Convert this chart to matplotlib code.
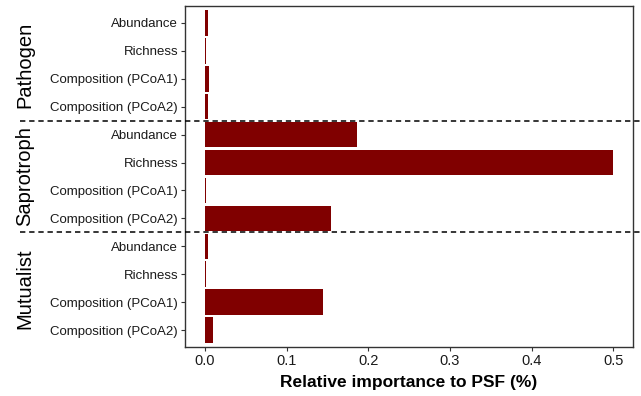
import numpy as np
import matplotlib.pyplot as plt

plt.rcParams['font.family'] = ['Liberation Sans', 'DejaVu Sans']

groups = ["Pathogen", "Saprotroph", "Mutualist"]
predictors = ["Abundance", "Richness", "Composition (PCoA1)", "Composition (PCoA2)"]
pathogen = [0.0037, 0.001, 0.005, 0.0037]
saprotroph = [0.186, 0.500, 0.001, 0.154]
mutualist = [0.0037, 0.001, 0.1445, 0.0098]

values = pathogen + saprotroph + mutualist
labels = predictors * len(groups)
ypos = np.arange(len(values))

fig = plt.figure(figsize=(6.41, 3.96), dpi=100)
ax = fig.add_axes([185/641, 1 - 347/396, (633-185)/641, (347-6)/396])

ax.barh(ypos, values, height=0.92, color="#800000")
ax.set_ylim(len(values) - 0.4, -0.6)
ax.set_xlim(-0.0245, 0.524)
ax.set_yticks(ypos)
ax.set_yticklabels(labels, fontsize=9.5)
ax.set_xticks([0, 0.1, 0.2, 0.3, 0.4, 0.5])
ax.set_xticklabels(["0.0", "0.1", "0.2", "0.3", "0.4", "0.5"], fontsize=10.5)
ax.tick_params(length=3, color="#333333", labelcolor="#1a1a1a", pad=2)
for s in ax.spines.values():
    s.set_color("#333333")
    s.set_linewidth(1.0)
ax.set_xlabel("Relative importance to PSF (%)", fontsize=12.5, fontweight="bold", labelpad=5)

# dashed separators between fungal guilds, running across the whole figure
for b in [3.5, 7.5]:
    yfig = ax.transData.transform((0, b))[1]
    yfig = fig.transFigure.inverted().transform((0, yfig))[1]
    fig.add_artist(plt.Line2D([20/641, 1.0], [yfig, yfig], color="black",
                              linestyle=(0, (3.5, 2.5)), linewidth=1.1))

for i, g in enumerate(groups):
    yc = fig.transFigure.inverted().transform(ax.transData.transform((0, i*4 + 1.5)))[1]
    fig.text(25/641, yc, g, rotation=90, ha="center", va="center", fontsize=14.5)

fig.savefig("out.png", dpi=100)
